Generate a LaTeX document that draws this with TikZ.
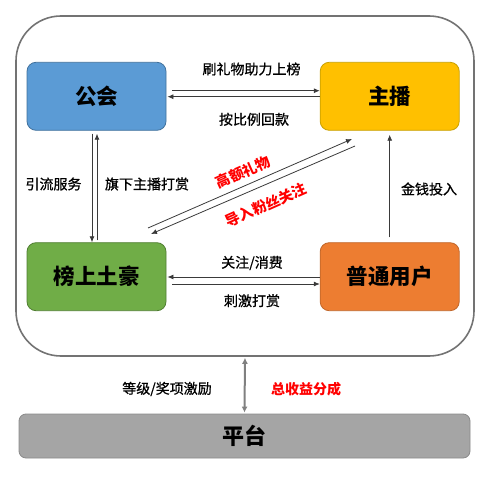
\documentclass[tikz,border=0pt]{standalone}
\usepackage{fontspec}
\setmainfont{Noto Sans CJK SC}
\newfontfamily\medfont{Noto Sans CJK SC}[FakeBold=0.8]
\usetikzlibrary{arrows.meta}
\definecolor{cblue}{HTML}{5B9BD5}
\definecolor{cblueb}{HTML}{41719C}
\definecolor{cyel}{HTML}{FFC000}
\definecolor{cyelb}{HTML}{C9A000}
\definecolor{cgreen}{HTML}{70AD47}
\definecolor{cgreenb}{HTML}{507E32}
\definecolor{corange}{HTML}{ED7D31}
\definecolor{corangeb}{HTML}{C0662A}
\definecolor{cgray}{HTML}{A5A5A5}
\definecolor{cgrayb}{HTML}{8A8A8A}
\definecolor{cline}{HTML}{3A3A3A}
\definecolor{cred}{HTML}{FF0000}
\begin{document}
\begin{tikzpicture}[x=1pt,y=-1pt,
  box/.style={rounded corners=9pt, minimum width=139pt, minimum height=68pt, draw, line width=0.8pt, inner sep=0pt,
    font=\fontsize{21.5}{24}\selectfont\bfseries},
  lbl/.style={font=\fontsize{14}{16}\selectfont\medfont, text=black, inner sep=0pt},
  rlbl/.style={font=\fontsize{14.5}{16}\selectfont\bfseries, text=cred, inner sep=0pt, rotate=24},
  arr/.style={draw=cline, line width=0.8pt, -{Latex[length=6pt,width=5pt]}},
]
\useasboundingbox (0,0) rectangle (500,478);
\node[draw=gray!90!black, line width=1.6pt, rounded corners=45pt, minimum width=458pt, minimum height=340pt, inner sep=0pt] (outer) at (245,186) {};

\node[box, fill=cblue, draw=cblueb] (gh) at (96.5,96.3) {公会};
\node[box, fill=cyel, draw=cyelb] (zb) at (389.7,96.3) {主播};
\node[box, fill=cgreen, draw=cgreenb] (bs) at (96.5,276.7) {榜上土豪};
\node[box, fill=corange, draw=corangeb] (pt) at (389.7,276.7) {普通用户};
\node[box, fill=cgray, draw=cgrayb, minimum width=451pt, minimum height=44pt, rounded corners=7pt, font=\fontsize{22}{24}\selectfont\bfseries] (pf) at (244.5,436) {平台};

% gh <-> zb
\draw[arr, shorten <=6pt] ([yshift=5.6pt]gh.east) -- ([yshift=5.6pt]zb.west);
\draw[arr, shorten >=1pt] ([yshift=-0.4pt]zb.west) -- ([yshift=-0.4pt]gh.east);
\node[lbl] (l1) at (251.5,69) {刷礼物助力上榜};
\node[lbl] (l2) at (254,119.3) {按比例回款};

% gh <-> bs
\draw[arr, shorten <=3pt] ([xshift=-4.5pt]gh.south) -- ([xshift=-4.5pt]bs.north);
\draw[arr, shorten <=2pt, shorten >=3pt] ([xshift=0.5pt]bs.north) -- ([xshift=0.5pt]gh.south);
\node[lbl] (l3) at (53.5,184) {引流服务};
\node[lbl] (l4) at (147,184) {旗下主播打赏};

% diagonal
\coordinate (d1s) at (148,228);
\coordinate (d1e) at (352,139);
\coordinate (d2s) at (355,146);
\coordinate (d2e) at (151,234);
\draw[arr] (d1s) -- (d1e);
\draw[arr] (d2s) -- (d2e);
\node[rlbl] (r1) at (243,172) {高额礼物};
\node[rlbl] (r2) at (266,205) {导入粉丝关注};

% pt -> zb
\draw[arr, shorten <=5pt, shorten >=4pt] (pt.north) -- (zb.south);
\node[lbl] (l5) at (429,189) {金钱投入};

% bs <-> pt
\draw[arr, shorten >=1pt] ([yshift=-0.3pt]pt.west) -- ([yshift=-0.3pt]bs.east);
\draw[arr, shorten <=6pt] ([yshift=-7.3pt]bs.east) -- ([yshift=-7.3pt]pt.west);
\node[lbl] (l6) at (252,263) {关注/消费};
\node[lbl] (l7) at (252,300.7) {刺激打赏};

% outer <-> platform
\draw[draw=gray, line width=2pt, {Latex[length=6pt,width=6pt]}-{Latex[length=6pt,width=6pt]}, shorten <=1pt, shorten >=1pt] (outer.south) -- (pf.north);
\node[lbl] (l8) at (167,389) {等级/奖项激励};
\node[lbl, text=cred, font=\fontsize{14}{16}\selectfont\bfseries] (l9) at (306,389) {总收益分成};
\end{tikzpicture}
\end{document}
